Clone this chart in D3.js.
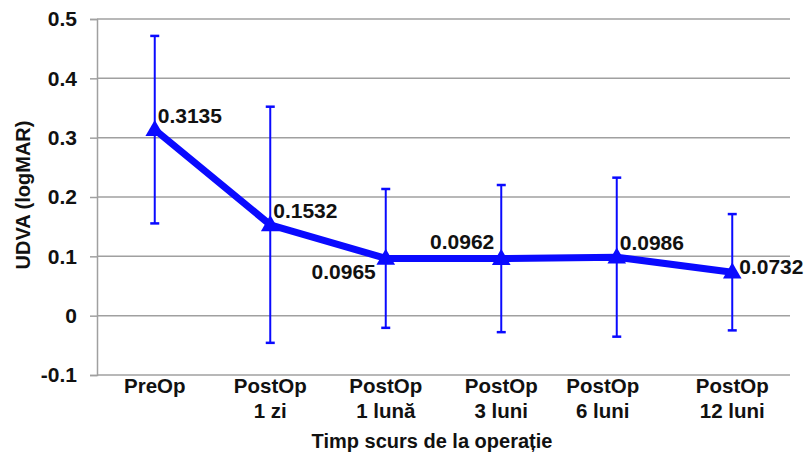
<!DOCTYPE html>
<html><head><meta charset="utf-8">
<script src="https://cdn.jsdelivr.net/npm/d3@7"></script>
<style>body{margin:0;background:#fff}svg{display:block}text{font-family:"Liberation Sans",Arial,sans-serif;font-weight:bold;fill:#111}</style>
</head><body>
<svg id="c" width="809" height="454"></svg>
<script>
const categories = ["PreOp", "PostOp\n1 zi", "PostOp\n1 lună", "PostOp\n3 luni", "PostOp\n6 luni", "PostOp\n12 luni"];
const values = [0.3135, 0.1532, 0.0965, 0.0962, 0.0986, 0.0732];
const errors = [0.158, 0.199, 0.117, 0.124, 0.134, 0.098];
const yTicks = [-0.1, 0, 0.1, 0.2, 0.3, 0.4, 0.5];
const labelPlacement = ["aboveRight", "aboveRight", "belowLeft", "aboveLeft", "aboveRight", "right"];
const yTitle = "UDVA (logMAR)";
const xTitle = "Timp scurs de la operație";

(function () {
const svg = d3.select("#c");
const mL = 97, mR = 790, mT = 19, mB = 375;
const x = d3.scalePoint().domain(categories).range([mL, mR]).padding(0.5);
const y = d3.scaleLinear().domain([-0.1, 0.5]).range([mB, mT]);
const blue = "#0a0aff";

// grid + y axis
const yAxis = d3.axisLeft(y).tickValues(yTicks).tickSize(7).tickPadding(13)
  .tickFormat(d => d === 0 ? "0" : d.toFixed(1));
const gy = svg.append("g").attr("transform", `translate(${mL},0)`).call(yAxis);
gy.select(".domain").attr("stroke", "#a0a0a0").attr("stroke-width", 1.5);
gy.selectAll(".tick line").attr("stroke", "#a0a0a0").attr("stroke-width", 1.5);
gy.selectAll(".tick text").style("font-size", "21px").attr("fill", "#111");
svg.append("g").selectAll("line").data(yTicks).join("line")
  .attr("x1", mL).attr("x2", mR).attr("y1", d => y(d)).attr("y2", d => y(d))
  .attr("stroke", "#a0a0a0").attr("stroke-width", 1.5);

// x tick labels
const xl = svg.append("g").selectAll("text").data(categories).join("text")
  .attr("text-anchor", "middle").style("font-size", "20.5px")
  .attr("transform", (d, i) => `translate(${x(d) + (i === 4 ? -14 : 0)},393)`);
xl.selectAll("tspan").data(d => d.split("\n")).join("tspan")
  .attr("x", 0).attr("dy", (d, i) => i === 0 ? 0 : 25).text(d => d);

// titles
svg.append("text").attr("text-anchor", "middle").style("font-size", "20px")
  .attr("x", 432).attr("y", 448).text(xTitle);
svg.append("text").attr("text-anchor", "middle").style("font-size", "20px")
  .attr("transform", "translate(30,195) rotate(-90)").text(yTitle);

// error bars
const eb = svg.append("g").attr("stroke", blue).attr("stroke-width", 2);
categories.forEach((c, i) => {
  const cx = x(c), y1 = y(values[i] + errors[i]), y2 = y(values[i] - errors[i]);
  eb.append("line").attr("x1", cx).attr("x2", cx).attr("y1", y1).attr("y2", y2);
  eb.append("line").attr("x1", cx - 4.5).attr("x2", cx + 4.5).attr("y1", y1).attr("y2", y1).attr("stroke-width", 2.5);
  eb.append("line").attr("x1", cx - 4.5).attr("x2", cx + 4.5).attr("y1", y2).attr("y2", y2).attr("stroke-width", 2.5);
});

// line
const line = d3.line().x((d, i) => x(categories[i])).y(d => y(d));
svg.append("path").datum(values).attr("d", line).attr("fill", "none")
  .attr("stroke", blue).attr("stroke-width", 7).attr("stroke-linejoin", "round");

// markers
const tri = d3.symbol().type(d3.symbolTriangle).size(150);
svg.append("g").selectAll("path").data(values).join("path")
  .attr("d", tri).attr("fill", blue)
  .attr("transform", (d, i) => `translate(${x(categories[i])},${y(d) + 1})`);

// data labels
const place = {
  aboveRight: {dx: 3, dy: -7, a: "start"},
  belowLeft: {dx: -10, dy: 21, a: "end"},
  aboveLeft: {dx: -7, dy: -10, a: "end"},
  right: {dx: 7, dy: 2, a: "start"}
};
svg.append("g").selectAll("text").data(values).join("text")
  .style("font-size", "21px")
  .attr("text-anchor", (d, i) => place[labelPlacement[i]].a)
  .attr("x", (d, i) => x(categories[i]) + place[labelPlacement[i]].dx)
  .attr("y", (d, i) => y(d) + place[labelPlacement[i]].dy)
  .text(d => d3.format(".4f")(d));
})();
</script>
</body></html>
